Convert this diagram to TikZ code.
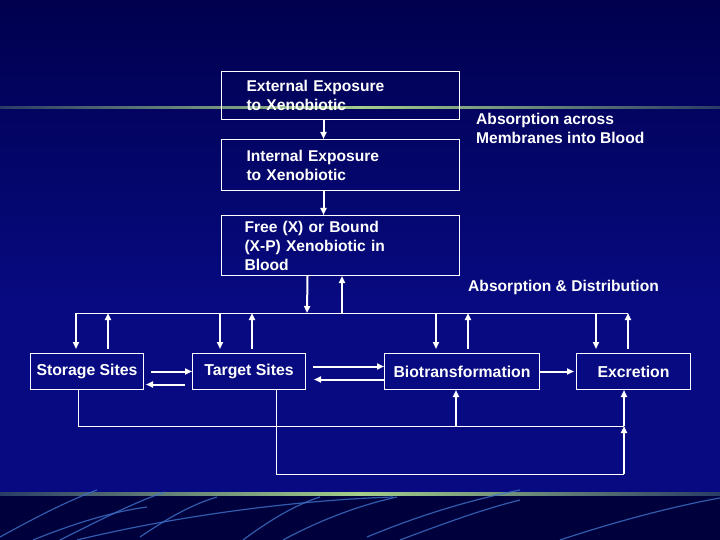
\documentclass[tikz,border=0pt]{standalone}
\usepackage{fontspec}
\setmainfont{Liberation Sans}
\usepackage{tikz}
\usetikzlibrary{arrows.meta}
\definecolor{fondo}{HTML}{070A80}
\definecolor{fondotop}{HTML}{00004E}
\definecolor{fondobajo}{HTML}{00003C}
\definecolor{verde}{HTML}{A4CE8A}
\definecolor{verdeosc}{HTML}{2A3C66}
\definecolor{celeste}{HTML}{3F72C8}
\tikzset{
  caja/.style={rectangle, draw=white, line width=1pt, text=white,
    font=\bfseries\fontsize{15.8}{19}\selectfont, inner sep=0pt},
  cajaalta/.style={caja, align=left, text width=188pt, inner xsep=25pt,
    anchor=north west, font=\bfseries\fontsize{15.6}{19}\selectfont},
  cajabaja/.style={caja, minimum height=36pt, anchor=north west},
  texto/.style={text=white, align=left, inner sep=0pt, anchor=west,
    font=\bfseries\fontsize{15.6}{19}\selectfont},
  flecha/.style={-{Triangle[length=7pt,width=6pt]}, line width=2pt, white},
  linea/.style={line width=1pt, white},
  estela/.style={celeste, line width=1.2pt, opacity=0.8}
}

\begin{document}
\begin{tikzpicture}[x=1pt, y=-1pt]

  \useasboundingbox (0,0) rectangle (720,540);

  % --- Fondo ---
  \fill[fondo] (0,0) rectangle (720,540);
  \shade[top color=fondotop, bottom color=fondo] (0,0) rectangle (720,300);
  \fill[fondobajo] (0,494) rectangle (720,540);
  \shade[left color=verdeosc, right color=verdeosc, middle color=verde]
    (0,107) rectangle (720,109);
  \shade[left color=verdeosc, right color=verdeosc, middle color=verde]
    (0,492.5) rectangle (720,495.5);
  % estelas de abajo
  \draw[estela] (0,537) .. controls (40,515) and (70,500) .. (97,490);
  \draw[estela] (60,540) .. controls (100,520) and (135,502) .. (165,492);
  \draw[estela] (33,540) .. controls (70,525) and (110,512) .. (147,507);
  \draw[estela] (77,540) .. controls (180,515) and (300,500) .. (393,497);
  \draw[estela] (140,537) .. controls (165,520) and (190,505) .. (217,497);
  \draw[estela] (243,540) .. controls (270,520) and (295,505) .. (320,497);
  \draw[estela] (283,540) .. controls (320,520) and (360,505) .. (397,497);
  \draw[estela] (367,537) .. controls (420,515) and (470,500) .. (520,490);
  \draw[estela] (400,540) .. controls (440,525) and (480,510) .. (520,500);
  \draw[estela] (560,540) .. controls (620,520) and (680,505) .. (720,498);

  % --- Cajas de arriba ---
  \node[cajaalta, minimum height=48pt] (extexp) at (221,71)
    {External Exposure\\to Xenobiotic};
  \node[cajaalta, minimum height=51pt] (intexp) at (221,139)
    {Internal Exposure\\to Xenobiotic};
  \node[cajaalta, minimum height=60pt, inner xsep=23pt, text width=192pt]
    (blood) at (221,215)
    {Free (X) or Bound\\(X-P) Xenobiotic in\\Blood};

  % --- Textos sueltos ---
  \node[texto] (absmemb) at (476,128.5) {Absorption across\\Membranes into Blood};
  \node[texto] (absdist) at (468,287) {Absorption \& Distribution};

  % --- Cajas de abajo ---
  \node[cajabaja, minimum width=113pt] (storage) at (30,353) {Storage Sites};
  \node[cajabaja, minimum width=113pt] (target) at (192,353) {Target Sites};
  \node[cajabaja, minimum width=155pt] (biotrans) at (384,353) {Biotransformation};
  \node[cajabaja, minimum width=114pt] (excretion) at (576,353) {Excretion};

  % --- Puntos del bus ---
  \coordinate (bS1) at (76,313);
  \coordinate (bS2) at (108,313);
  \coordinate (bT1) at (220,313);
  \coordinate (bT2) at (252,313);
  \coordinate (bF1) at (307,313);
  \coordinate (bF2) at (342,313);
  \coordinate (bB1) at (436,313);
  \coordinate (bB2) at (468,313);
  \coordinate (bE1) at (596,313);
  \coordinate (bE2) at (628,313);
  \coordinate (jB) at (456,426);
  \coordinate (jE) at (624,426);
  \coordinate (kE) at (624,474);

  % --- Flechas de arriba ---
  \draw[flecha] ([xshift=-17pt]extexp.south) -- ([xshift=-17pt]intexp.north);
  \draw[flecha] ([xshift=-17pt]intexp.south) -- ([xshift=-17pt]blood.north);
  \draw[flecha] ([xshift=-33pt]blood.south) -- (bF1);
  \draw[flecha] (bF2) -- (bF2 |- blood.south);

  % --- Bus ---
  \draw[linea] (bS1) -- (bE2);
  \draw[flecha, shorten >=4pt] (bS1) -- (bS1 |- storage.north);
  \draw[flecha, shorten <=4pt] (bS2 |- storage.north) -- (bS2);
  \draw[flecha, shorten >=4pt] (bT1) -- (bT1 |- target.north);
  \draw[flecha, shorten <=4pt] (bT2 |- target.north) -- (bT2);
  \draw[flecha, shorten >=4pt] (bB1) -- (bB1 |- biotrans.north);
  \draw[flecha, shorten <=4pt] (bB2 |- biotrans.north) -- (bB2);
  \draw[flecha, shorten >=4pt] (bE1) -- (bE1 |- excretion.north);
  \draw[flecha, shorten <=4pt] (bE2 |- excretion.north) -- (bE2);

  % --- Flechas entre cajas ---
  \draw[flecha, shorten <=7pt] (storage.east) -- (target.west);
  \draw[flecha, shorten <=7pt, shorten >=2pt]
    ([yshift=-13pt]target.west) -- ([yshift=-13pt]storage.east);
  \draw[flecha, shorten <=7pt]
    ([yshift=5pt]target.east) -- ([yshift=5pt]biotrans.west);
  \draw[flecha, shorten >=8pt]
    ([yshift=-8pt]biotrans.west) -- ([yshift=-8pt]target.east);
  \draw[flecha, shorten >=2pt] (biotrans.east) -- (excretion.west);

  % --- Lineas de abajo ---
  \draw[linea] ([xshift=-8.5pt]storage.south) |- (jE);
  \draw[flecha] (jB) -- (jB |- biotrans.south);
  \draw[linea] ([xshift=27.5pt]target.south) |- (kE);
  \draw[flecha] (kE) -- (jE);
  \draw[flecha] (jE) -- (jE |- excretion.south);

\end{tikzpicture}
\end{document}
